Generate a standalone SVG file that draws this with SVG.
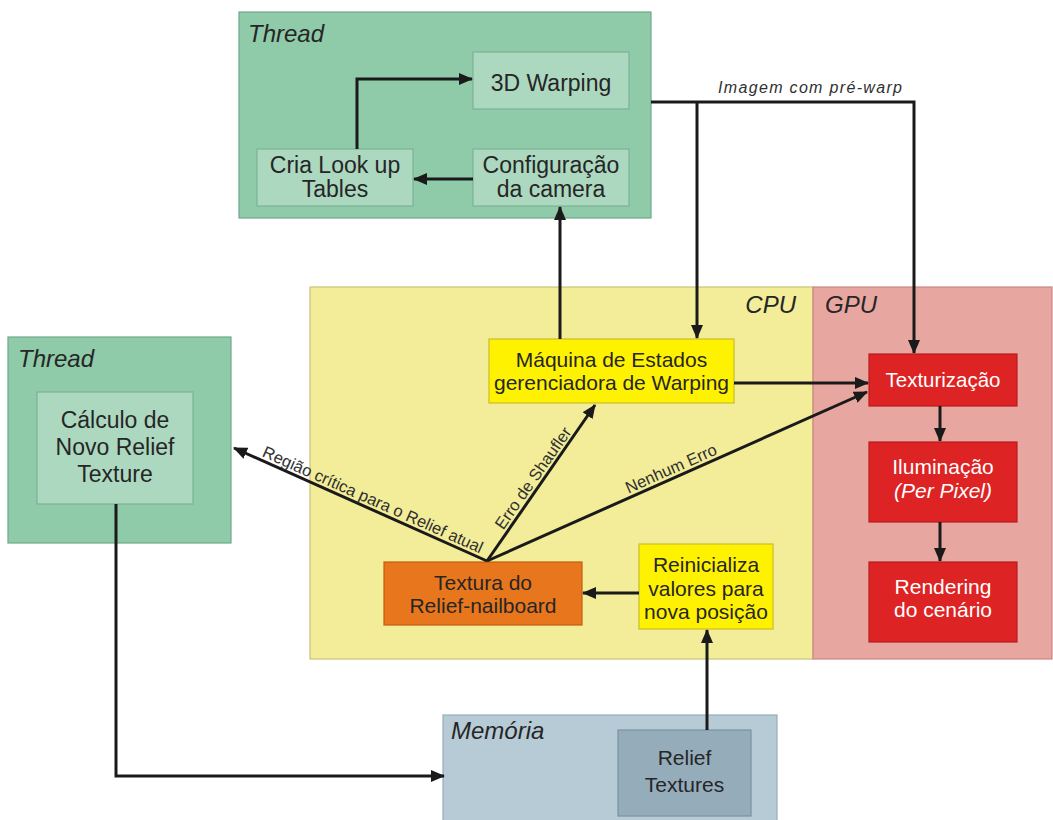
<svg xmlns="http://www.w3.org/2000/svg" width="1053" height="820" viewBox="0 0 1053 820">
<style>
  text { font-family: "Liberation Sans", Arial, sans-serif; fill: #262626; }
  .lbl { font-size: 23px; text-anchor: middle; }
  .mid { font-size: 21px; text-anchor: middle; }
  .wt { fill: #ffffff; }
  .title { font-size: 24px; font-style: italic; }
  .edge { font-size: 16.5px; text-anchor: middle; fill: #303030; }
  .grp { fill: #8fcaa9; stroke: #6ea88a; stroke-width: 1.2; }
  .gin { fill: #acd8c0; stroke: #7ab395; stroke-width: 1.2; }
  .yl { fill: #fff200; stroke: #c9bd30; stroke-width: 1.2; }
  .rd { fill: #dd2323; stroke: #b81c1c; stroke-width: 1.2; }
  .conn path, .conn line { fill: none; stroke: #1a1a1a; stroke-width: 3; }
</style>
<defs>
  <marker id="ah" viewBox="0 0 14 12" refX="13" refY="6" markerWidth="14" markerHeight="12" markerUnits="userSpaceOnUse" orient="auto">
    <path d="M0,0 L14,6 L0,12 z" fill="#1a1a1a"/>
  </marker>
</defs>
<rect x="0" y="0" width="1053" height="820" fill="#ffffff"/>

<!-- containers -->
<g id="thread-top">
  <rect class="grp" x="239" y="12" width="412" height="206"/>
  <text class="title" x="248" y="42">Thread</text>
</g>
<g id="cpu">
  <rect x="310" y="287" width="503" height="372" fill="#f3ed99" stroke="#c9c27a" stroke-width="1.2"/>
  <text class="title" x="796" y="313" text-anchor="end">CPU</text>
</g>
<g id="gpu">
  <rect x="813" y="287" width="239" height="372" fill="#e8a6a1" stroke="#c88884" stroke-width="1.2"/>
  <text class="title" x="825" y="313">GPU</text>
</g>
<g id="thread-left">
  <rect class="grp" x="8" y="337" width="223" height="206"/>
  <text class="title" x="18" y="367">Thread</text>
</g>
<g id="memoria">
  <rect x="443" y="715" width="334" height="110" fill="#b7cbd7" stroke="#97adbb" stroke-width="1.2"/>
  <text class="title" x="451" y="739">Memória</text>
</g>

<!-- nodes -->
<g id="warping3d">
  <rect class="gin" x="473" y="52" width="156" height="57"/>
  <text class="lbl" x="551" y="91">3D Warping</text>
</g>
<g id="cria-lut">
  <rect class="gin" x="257" y="149" width="156" height="57"/>
  <text class="lbl" x="335" y="173">Cria Look up</text>
  <text class="lbl" x="335" y="197">Tables</text>
</g>
<g id="config-camera">
  <rect class="gin" x="473" y="149" width="156" height="57"/>
  <text class="lbl" x="551" y="173">Configuração</text>
  <text class="lbl" x="551" y="197">da camera</text>
</g>
<g id="calculo">
  <rect class="gin" x="37" y="392" width="156" height="112"/>
  <text class="lbl" x="115" y="428">Cálculo de</text>
  <text class="lbl" x="115" y="455">Novo Relief</text>
  <text class="lbl" x="115" y="482">Texture</text>
</g>
<g id="maquina">
  <rect class="yl" x="489" y="339" width="245" height="64"/>
  <text class="mid" x="611.5" y="367">Máquina de Estados</text>
  <text class="mid" x="611.5" y="390">gerenciadora de Warping</text>
</g>
<g id="textura">
  <rect x="384" y="562" width="198" height="63" fill="#e8761c" stroke="#c25e12" stroke-width="1.2"/>
  <text class="mid" x="483" y="590">Textura do</text>
  <text class="mid" x="483" y="613">Relief-nailboard</text>
</g>
<g id="reinicializa">
  <rect class="yl" x="639" y="544" width="134" height="85"/>
  <text class="mid" x="706" y="572">Reinicializa</text>
  <text class="mid" x="706" y="596">valores para</text>
  <text class="mid" x="706" y="619">nova posição</text>
</g>
<g id="texturizacao">
  <rect class="rd" x="869" y="354" width="148" height="52"/>
  <text class="mid wt" x="943" y="387" textLength="115" lengthAdjust="spacingAndGlyphs">Texturização</text>
</g>
<g id="iluminacao">
  <rect class="rd" x="869" y="442" width="148" height="80"/>
  <text class="mid wt" x="943" y="474">Iluminação</text>
  <text class="mid wt" x="943" y="498" font-style="italic">(Per Pixel)</text>
</g>
<g id="rendering">
  <rect class="rd" x="869" y="562" width="148" height="80"/>
  <text class="mid wt" x="943" y="594">Rendering</text>
  <text class="mid wt" x="943" y="617">do cenário</text>
</g>
<g id="relief-textures">
  <rect x="618" y="730" width="133" height="86" fill="#95acbb" stroke="#7a92a2" stroke-width="1.2"/>
  <text class="mid" x="684.5" y="765">Relief</text>
  <text class="mid" x="684.5" y="792">Textures</text>
</g>

<!-- connectors -->
<g id="connectors" class="conn">
  <path d="M357,149 V79 H472" marker-end="url(#ah)"/>
  <path d="M473,179 H414" marker-end="url(#ah)"/>
  <path d="M560,339 V207" marker-end="url(#ah)"/>
  <path d="M651,102 H914 V353" marker-end="url(#ah)"/>
  <path d="M697,102 V338" marker-end="url(#ah)"/>
  <path d="M734,383 H868" marker-end="url(#ah)"/>
  <path d="M487,561 L234,448" marker-end="url(#ah)"/>
  <path d="M487,561 L595,405" marker-end="url(#ah)"/>
  <path d="M487,561 L867,392" marker-end="url(#ah)"/>
  <path d="M639,593 H583" marker-end="url(#ah)"/>
  <path d="M707,730 V630" marker-end="url(#ah)"/>
  <path d="M116,504 V776 H444" marker-end="url(#ah)"/>
  <path d="M940,406 V441" marker-end="url(#ah)"/>
  <path d="M940,522 V561" marker-end="url(#ah)"/>
  <text x="718" y="93" font-size="16" font-style="italic" style="fill:#303030" textLength="184" lengthAdjust="spacing">Imagem com pré-warp</text>
  <text class="edge" transform="translate(370.6,504.8) rotate(24)">Região crítica para o Relief atual</text>
  <text class="edge" transform="translate(537.7,481.2) rotate(-55)">Erro de Shaufler</text>
  <text class="edge" transform="translate(673.4,473.7) rotate(-24)">Nenhum Erro</text>
</g>
</svg>
